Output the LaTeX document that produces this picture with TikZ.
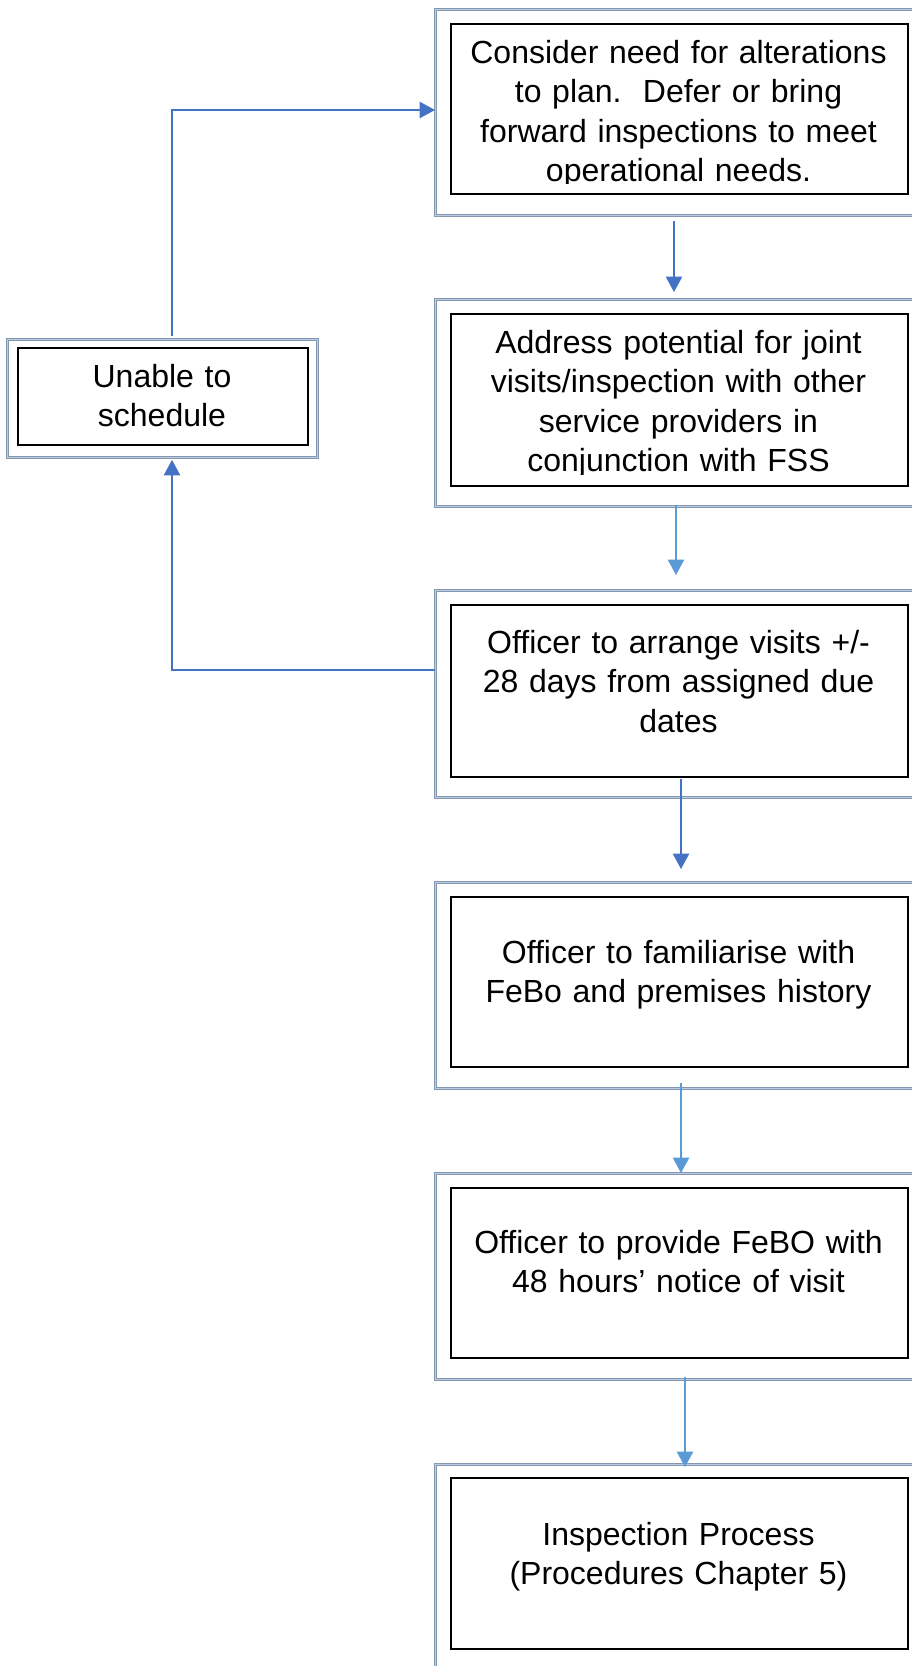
\documentclass[tikz,border=0pt]{standalone}
\usepackage{fontspec}
\setmainfont{Liberation Sans}
\usetikzlibrary{arrows.meta,calc}
\definecolor{linkdark}{RGB}{68,114,196}
\definecolor{linklight}{RGB}{91,155,213}
\definecolor{frameouter}{RGB}{132,151,176}
\definecolor{frameinner}{RGB}{190,205,228}

\begin{document}
\begin{tikzpicture}[x=1pt,y=-1pt,
  frame/.style={draw=frameouter, line width=0.9pt, double=frameinner,
    double distance=1.1pt, inner sep=0pt, anchor=north west},
  card/.style={draw=black, line width=1.8pt, fill=white, inner sep=0pt,
    anchor=north west},
  label/.style={font=\fontsize{32}{39.5}\selectfont, text width=450pt,
    align=center, anchor=base, inner sep=0pt},
  link/.style={line width=1.3pt, -{Triangle[width=16.5pt,length=15.5pt]}},
]
\useasboundingbox (0,0) rectangle (912,1666);
\clip (0,0) rectangle (912,1666);

% columns used by the vertical connectors
\coordinate (c0) at (172,0);
\coordinate (c1) at (674,0);
\coordinate (c2) at (676,0);
\coordinate (c3) at (681,0);
\coordinate (c4) at (681,0);
\coordinate (c5) at (685,0);

% outer frames
\node[frame, minimum width=490pt, minimum height=206pt] (f1) at (435,9) {};
\node[frame, minimum width=490pt, minimum height=207pt] (f2) at (435,299) {};
\node[frame, minimum width=490pt, minimum height=207pt] (f3) at (435,590) {};
\node[frame, minimum width=490pt, minimum height=206pt] (f4) at (435,882) {};
\node[frame, minimum width=490pt, minimum height=206pt] (f5) at (435,1173) {};
\node[frame, minimum width=490pt, minimum height=208pt] (f6) at (435,1464) {};
\node[frame, minimum width=310pt, minimum height=118pt] (u) at (7,339) {};

% inner boxes
\node[card, minimum width=457pt, minimum height=170pt] (b1) at (450,23) {};
\node[card, minimum width=457pt, minimum height=172pt] (b2) at (450,313) {};
\node[card, minimum width=457pt, minimum height=172pt] (b3) at (450,604) {};
\node[card, minimum width=457pt, minimum height=170pt] (b4) at (450,896) {};
\node[card, minimum width=457pt, minimum height=170pt] (b5) at (450,1187) {};
\node[card, minimum width=457pt, minimum height=171pt] (b6) at (450,1477) {};
\node[card, minimum width=290pt, minimum height=97pt] (ub) at (17,347) {};

% texts (the two long ones are cut off by their boxes)
\begin{scope}
  \clip (450,23) rectangle (907,183.5);
  \node[label] (t1) at (678.5,63)
    {Consider need for alterations\\to plan.\ \ Defer or bring\\forward inspections to meet\\operational needs.};
\end{scope}
\begin{scope}
  \clip (450,313) rectangle (907,474);
  \node[label] (t2) at (678.5,353)
    {Address potential for joint\\visits/inspection with other\\service providers in\\conjunction with FSS};
\end{scope}
\node[label] (t3) at (678.5,653)
  {Officer to arrange visits +/-\\28 days from assigned due\\dates};
\node[label] (t4) at (678.5,963)
  {Officer to familiarise with\\FeBo and premises history};
\node[label] (t5) at (678.5,1253)
  {Officer to provide FeBO with\\48 hours’ notice of visit};
\node[label] (t6) at (678.5,1545)
  {Inspection Process\\(Procedures Chapter 5)};
\node[label, text width=280pt] (tu) at (162,387)
  {Unable to\\schedule};

% connectors down the main column
\draw[link, linkdark]  ($(f1.south -| c1)+(0,5)$)  -- ($(f2.north -| c1)+(0,-7)$);
\draw[link, linklight] ($(f2.south -| c2)+(0,-2)$) -- ($(f3.north -| c2)+(0,-15)$);
\draw[link, linkdark]  ($(f3.south -| c3)+(0,-19)$) -- ($(f4.north -| c3)+(0,-13)$);
\draw[link, linklight] ($(f4.south -| c4)+(0,-6)$) -- ($(f5.north -| c4)+(0,0)$);
\draw[link, linklight] ($(f5.south -| c5)+(0,-3)$) -- ($(f6.north -| c5)+(0,3)$);

% loop back through "Unable to schedule"
\draw[link, linkdark] ($(f3.north west)+(0,80)$) -| ($(u.south -| c0)+(0,2)$);
\draw[link, linkdark] ($(u.north -| c0)+(0,-3)$) |- ($(f1.north west)+(0,101)$);
\end{tikzpicture}
\end{document}
